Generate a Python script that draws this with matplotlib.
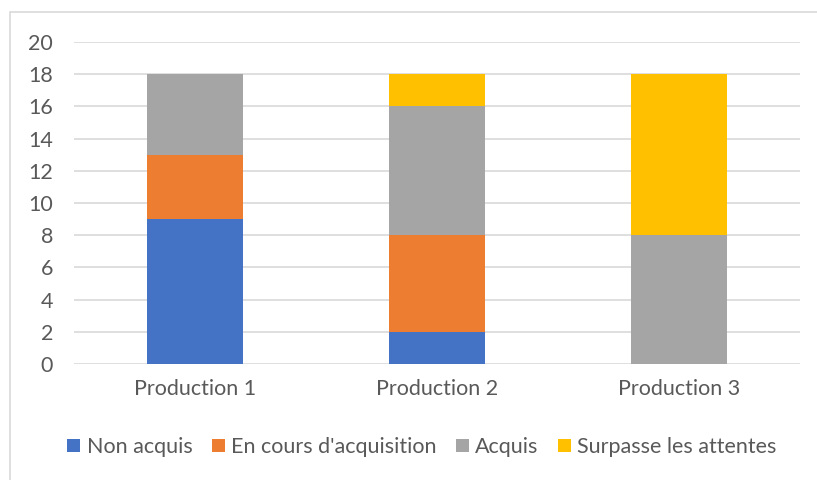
import matplotlib.pyplot as plt
import numpy as np
from matplotlib.patches import Rectangle

categories = ["Production 1", "Production 2", "Production 3"]
non_acquis = [9, 2, 0]
en_cours = [4, 6, 0]
acquis = [5, 8, 8]
surpasse = [0, 2, 10]

series = [
    ("Non acquis", non_acquis, "#4472C4"),
    ("En cours d'acquisition", en_cours, "#ED7D31"),
    ("Acquis", acquis, "#A5A5A5"),
    ("Surpasse les attentes", surpasse, "#FFC000"),
]

plt.rcParams['font.family'] = ['Lato', 'DejaVu Sans']
txt = '#595959'

fig = plt.figure(figsize=(8.17, 4.8), dpi=100)
ax = fig.add_axes([74/817, 1-364/480, (800-74)/817, (364-42)/480])

x = np.arange(len(categories))
bottom = np.zeros(len(categories))
for name, vals, col in series:
    ax.bar(x, vals, 0.4, bottom=bottom, color=col, label=name, zorder=3)
    bottom += np.array(vals)

ax.set_xlim(-0.5, 2.5)
ax.set_ylim(0, 20)
ax.set_yticks(range(0, 21, 2))
ax.set_xticks(x)
ax.set_xticklabels(categories)
ax.tick_params(length=0, labelsize=15.5, colors=txt)
ax.tick_params(axis='x', pad=11)
ax.tick_params(axis='y', pad=15)
ax.grid(axis='y', color='#D9D9D9', linewidth=1.2, zorder=0)
for s in ax.spines.values():
    s.set_visible(False)

leg = fig.legend(loc='center', bbox_to_anchor=(422/817, 1-447/480), ncol=4,
                 frameon=False, fontsize=15.5, handlelength=0.6, handleheight=0.6,
                 handletextpad=0.3, columnspacing=0.9)
for t in leg.get_texts():
    t.set_color(txt)

fig.patches.append(Rectangle((10/817, -0.1), 1.2, 1.1 - 12/480,
                             transform=fig.transFigure, fill=False,
                             edgecolor='#D9D9D9', linewidth=1.2))

fig.savefig('out.png', dpi=100)
